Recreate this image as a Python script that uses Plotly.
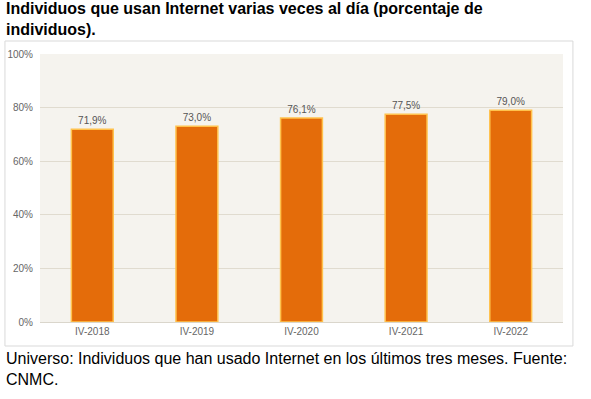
import plotly.graph_objects as go

categories = ["IV-2018", "IV-2019", "IV-2020", "IV-2021", "IV-2022"]
values = [71.9, 73.0, 76.1, 77.5, 79.0]
labels = ["71,9%", "73,0%", "76,1%", "77,5%", "79,0%"]
y_ticks = [0, 20, 40, 60, 80, 100]
y_tick_labels = ["0%", "20%", "40%", "60%", "80%", "100%"]

title_text = "Individuos que usan Internet varias veces al día (porcentaje de<br>individuos)."
note_text = "Universo: Individuos que han usado Internet en los últimos tres meses. Fuente:<br>CNMC."

fig = go.Figure()
fig.add_trace(go.Bar(
    x=categories, y=values, text=labels, textposition="outside",
    textfont=dict(family="Liberation Sans, Arial", size=10, color="#555555"),
    marker=dict(color="#E46C0A", line=dict(color="#FFC24D", width=1.5)),
    cliponaxis=False,
))

fig.update_layout(
    width=591, height=399,
    margin=dict(l=40, r=28, t=54, b=77, autoexpand=False),
    paper_bgcolor="white",
    plot_bgcolor="#F5F3EE",
    bargap=0.6,
    showlegend=False,
    font=dict(family="Liberation Sans, Arial", color="#666666"),
    xaxis=dict(showgrid=False, showline=True, linecolor="#DAD6CC", linewidth=1,
               automargin=False,
               tickfont=dict(size=10, color="#666666"), ticks="", fixedrange=True),
    yaxis=dict(range=[0, 100], tickvals=y_ticks, ticktext=y_tick_labels,
               automargin=False,
               gridcolor="#E0DBCF", gridwidth=1, zeroline=False,
               tickfont=dict(size=10, color="#666666"), ticks="",
               ticklabelstandoff=6, fixedrange=True),
    shapes=[dict(type="rect", xref="paper", yref="paper",
                 x0=-0.067, x1=1.019, y0=-0.0896, y1=1.0485,
                 line=dict(color="#D9D9D9", width=1), fillcolor="rgba(0,0,0,0)", layer="below")],
    annotations=[
        dict(text="<b>" + title_text + "</b>", xref="paper", yref="paper",
             x=-0.069, y=1.21, xanchor="left", yanchor="top", align="left", showarrow=False,
             font=dict(family="Liberation Sans, Arial", size=16, color="black")),
        dict(text=note_text, xref="paper", yref="paper",
             x=-0.069, y=-0.098, xanchor="left", yanchor="top", align="left", showarrow=False,
             font=dict(family="Liberation Sans, Arial", size=16, color="black")),
    ],
)

fig.write_html("out.html", config={"displayModeBar": False},
               post_script="document.body.style.margin='0';")
